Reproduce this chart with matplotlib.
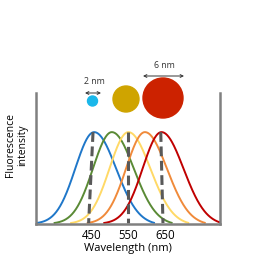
import numpy as np
import matplotlib
matplotlib.use("Agg")
import matplotlib.pyplot as plt
from matplotlib.patches import Circle

plt.rcParams['font.family'] = ['Open Sans', 'DejaVu Sans']

# Data
peaks = [458, 506, 551, 596, 641]
colors = ['#1f77c9', '#5a8a35', '#ffd966', '#f08a3a', '#c00000']
sigma_left = 51
sigma_right = 60
span_left = 158
span_right = 165
dash_tops = [455, 550, 639]
dash_bottoms = [443, 550, 645]
tick_values = [450, 550, 650]
tick_labels = ['450', '550', '650']

W, H = 275, 262
fig = plt.figure(figsize=(W/100, H/100), dpi=100)
ax = fig.add_axes([36/W, 1-224/H, (220-36)/W, (224-93)/H])

for p, c in zip(peaks, colors):
    x = np.linspace(p - span_left, min(p + span_right, 800), 300)
    s = np.where(x < p, sigma_left, sigma_right)
    span = np.where(x < p, span_left, span_right)
    g = np.exp(-(x - p)**2 / (2*s**2))
    g_end = np.exp(-span**2 / (2*s**2))
    y = np.clip((g - g_end) / (1 - g_end), 0, None)
    ax.plot(x, y, color=c, lw=1.4, solid_capstyle='butt')

for xt, xb in zip(dash_tops, dash_bottoms):
    ax.plot([xt, xb], [1.0, 0.0], color='#595959', lw=2.2, dashes=(3.2, 1.5))

ax.set_xlim(300, 800)
ax.set_ylim(-0.01, 1.43)
ax.set_xticks(tick_values)
ax.set_xticklabels(tick_labels, fontsize=8.3)
ax.set_yticks([])
ax.tick_params(axis='x', length=0, pad=3.5)
for s in ['left', 'right', 'bottom']:
    ax.spines[s].set_color('#808080')
    ax.spines[s].set_linewidth(1.8)
ax.spines['top'].set_visible(False)
ax.set_xlabel('Wavelength (nm)', fontsize=8, labelpad=0.5)
ax.set_ylabel('Fluorescence\nintensity', fontsize=7.5, linespacing=1.15)
ax.yaxis.set_label_coords(-0.045, 0.6)

# overlay in pixel coordinates for size illustration
ov = fig.add_axes([0, 0, 1, 1])
ov.set_xlim(0, W)
ov.set_ylim(H, 0)
ov.axis('off')
ov.add_patch(Circle((92.5, 101), 5, color='#1ab7ea'))
ov.add_patch(Circle((126, 99), 13, color='#cfa400'))
ov.add_patch(Circle((163, 98), 20, color='#cc2200'))
ov.annotate('', xy=(85, 93), xytext=(101, 93),
            arrowprops=dict(arrowstyle='<->', color='#333333', lw=0.7, shrinkA=0, shrinkB=0, mutation_scale=5))
ov.annotate('', xy=(143, 76), xytext=(184, 76),
            arrowprops=dict(arrowstyle='<->', color='#333333', lw=0.7, shrinkA=0, shrinkB=0, mutation_scale=5))
ov.text(94, 81, '2 nm', fontsize=6.3, ha='center', va='center', color='#333333')
ov.text(164, 66, '6 nm', fontsize=6.3, ha='center', va='center', color='#333333')

fig.savefig('out.png', dpi=100)
